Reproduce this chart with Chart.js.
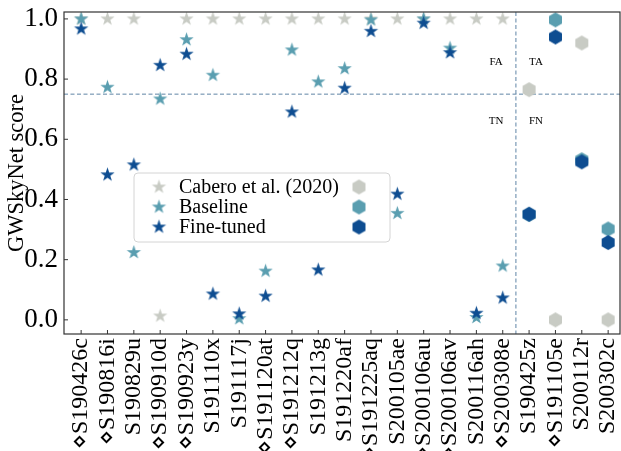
<!DOCTYPE html>
<html>
<head>
<meta charset="utf-8">
<script src="https://cdn.jsdelivr.net/npm/chart.js@4.4.0/dist/chart.umd.min.js"></script>
<style>
  html, body { margin: 0; padding: 0; background: #fff; }
  canvas { display: block; }
</style>
</head>
<body>
<canvas id="myChart" width="621" height="451"></canvas>
<script>
// events (⋄ = marked in the paper)
const events = [
  "⋄S190426c", "⋄S190816i", "S190829u", "⋄S190910d", "⋄S190923y",
  "S191110x", "S191117j", "⋄S191120at", "⋄S191212q", "S191213g",
  "S191220af", "⋄S191225aq", "S200105ae", "⋄S200106au", "⋄S200106av",
  "S200116ah", "⋄S200308e",
  "S190425z", "⋄S191105e", "S200112r", "S200302c",
];
// first 17 events are drawn as stars, the rest as hexagons
const nStarEvents = 17;

const cabero = [
  1.0, 1.0, 1.0, 0.013, 1.0, 1.0, 1.0, 1.0, 1.0, 1.0,
  1.0, 1.0, 1.0, 1.0, 1.0, 1.0, 1.0,
  0.765, 0.0, 0.92, 0.0,
];
const baseline = [
  1.0, 0.773, 0.224, 0.734, 0.931, 0.813, 0.004, 0.162, 0.897, 0.791,
  0.835, 0.997, 0.354, 1.0, 0.903, 0.008, 0.179,
  0.35, 0.997, 0.532, 0.302,
];
const finetuned = [
  0.967, 0.482, 0.515, 0.846, 0.883, 0.086, 0.02, 0.079, 0.691, 0.166,
  0.77, 0.959, 0.418, 0.986, 0.888, 0.022, 0.073,
  0.351, 0.94, 0.525, 0.257,
];
const yTicks = [0.0, 0.2, 0.4, 0.6, 0.8, 1.0];
const threshold = 0.75;

const annoText = ["FA", "TA", "TN", "FN"];
const annoX = [15.75, 17.26, 15.75, 17.26];
const annoY = [0.858, 0.858, 0.661, 0.661];

const colCabero = "#c8cbc4";
const colBase = "#5a9eb0";
const colFine = "#0e4d91";
const serif = "'Liberation Serif', 'Times New Roman', serif";

function starImg(color, r) {
  const c = document.createElement("canvas");
  c.width = c.height = Math.ceil(2 * r + 2);
  const g = c.getContext("2d");
  const cx = c.width / 2, cy = c.height / 2;
  g.beginPath();
  for (let i = 0; i < 10; i++) {
    const rad = i % 2 === 0 ? r : r * 0.39;
    const a = -Math.PI / 2 + i * Math.PI / 5;
    const px = cx + rad * Math.cos(a), py = cy + rad * Math.sin(a);
    if (i === 0) g.moveTo(px, py); else g.lineTo(px, py);
  }
  g.closePath();
  g.fillStyle = color;
  g.fill();
  return c;
}

function hexImg(color, r) {
  const c = document.createElement("canvas");
  c.width = c.height = Math.ceil(2 * r + 2);
  const g = c.getContext("2d");
  const cx = c.width / 2, cy = c.height / 2;
  g.beginPath();
  for (let i = 0; i < 6; i++) {
    const a = -Math.PI / 2 + i * Math.PI / 3;
    const px = cx + r * Math.cos(a), py = cy + r * Math.sin(a);
    if (i === 0) g.moveTo(px, py); else g.lineTo(px, py);
  }
  g.closePath();
  g.fillStyle = color;
  g.fill();
  return c;
}

const STAR_R = 7.5, HEX_R = 7.5;
const stars = { cab: starImg(colCabero, STAR_R), base: starImg(colBase, STAR_R), fine: starImg(colFine, STAR_R) };
const hexes = { cab: hexImg(colCabero, HEX_R), base: hexImg(colBase, HEX_R), fine: hexImg(colFine, HEX_R) };

function pts(values, from, to) {
  const out = [];
  for (let i = from; i < to; i++) out.push({ x: i, y: values[i] });
  return out;
}

function ds(label, values, img, star, order) {
  const from = star ? 0 : nStarEvents;
  const to = star ? nStarEvents : events.length;
  return {
    label: label,
    data: pts(values, from, to),
    pointStyle: img,
    pointRadius: 7,
    showLine: false,
    order: order,
  };
}

const decor = {
  id: "decor",
  beforeDatasetsDraw(chart) {
    const { ctx, chartArea: a, scales: { x, y } } = chart;
    ctx.save();
    ctx.strokeStyle = "#5f84a6";
    ctx.lineWidth = 1;
    ctx.setLineDash([4, 2.5]);
    const yy = y.getPixelForValue(threshold);
    ctx.beginPath();
    ctx.moveTo(a.left, yy); ctx.lineTo(a.right, yy);
    const xx = x.getPixelForValue(nStarEvents - 0.5);
    ctx.moveTo(xx, a.top); ctx.lineTo(xx, a.bottom);
    ctx.stroke();
    ctx.restore();
  },
  afterDatasetsDraw(chart) {
    const { ctx, chartArea: a, scales: { x, y } } = chart;
    ctx.save();
    // frame
    ctx.strokeStyle = "#333";
    ctx.lineWidth = 1.2;
    ctx.strokeRect(a.left, a.top, a.right - a.left, a.bottom - a.top);
    // inward ticks
    ctx.lineWidth = 1;
    ctx.beginPath();
    yTicks.forEach(v => {
      const py = y.getPixelForValue(v);
      ctx.moveTo(a.left, py); ctx.lineTo(a.left + 4, py);
    });
    events.forEach((e, i) => {
      const px = x.getPixelForValue(i);
      ctx.moveTo(px, a.bottom); ctx.lineTo(px, a.bottom - 4);
    });
    ctx.stroke();

    // quadrant labels
    ctx.fillStyle = "#000";
    ctx.font = "11px " + serif;
    ctx.textAlign = "center";
    ctx.textBaseline = "middle";
    annoText.forEach((t, i) => {
      ctx.fillText(t, x.getPixelForValue(annoX[i]), y.getPixelForValue(annoY[i]));
    });

    // legend
    const lx = 134, ly = 173, lw = 256, lh = 69;
    ctx.beginPath();
    ctx.roundRect(lx, ly, lw, lh, 4);
    ctx.fillStyle = "rgba(255,255,255,0.85)";
    ctx.fill();
    ctx.strokeStyle = "#d4d4d4";
    ctx.lineWidth = 1;
    ctx.stroke();
    const rows = [
      ["Cabero et al. (2020)", "cab"],
      ["Baseline", "base"],
      ["Fine-tuned", "fine"],
    ];
    ctx.font = "20px " + serif;
    ctx.textAlign = "left";
    ctx.fillStyle = "#000";
    rows.forEach((r, i) => {
      const cy = ly + 14 + i * 20;
      const s = stars[r[1]], h = hexes[r[1]];
      ctx.drawImage(s, 159 - s.width / 2, cy - s.height / 2);
      ctx.drawImage(h, 359 - h.width / 2, cy - h.height / 2);
      ctx.fillText(r[0], 179, cy + 1);
    });
    ctx.restore();
  },
};

const ctx = document.getElementById("myChart");

new Chart(ctx, {
  type: "scatter",
  data: {
    datasets: [
      ds("Cabero et al. (2020)", cabero, stars.cab, true, 5),
      ds("Baseline", baseline, stars.base, true, 4),
      ds("Fine-tuned", finetuned, stars.fine, true, 3),
      ds("Cabero hex", cabero, hexes.cab, false, 2),
      ds("Baseline hex", baseline, hexes.base, false, 1),
      ds("Fine-tuned hex", finetuned, hexes.fine, false, 0),
    ],
  },
  plugins: [decor],
  options: {
    responsive: false,
    animation: false,
    devicePixelRatio: 1,
    layout: {
      autoPadding: false,
      padding: { top: 12, right: 1, left: 0, bottom: 0 },
    },
    scales: {
      x: {
        type: "linear",
        min: -0.65,
        max: 20.45,
        grid: { display: false, drawTicks: false },
        border: { display: false },
        afterBuildTicks: (s) => { s.ticks = events.map((e, i) => ({ value: i })); },
        afterFit: (s) => {
          s.height = 117;
          s.paddingLeft = 0;
          s.paddingRight = 0;
        },
        ticks: {
          autoSkip: false,
          maxRotation: 90,
          minRotation: 90,
          padding: 4,
          color: "#000",
          font: { family: serif, size: 24 },
          callback: (v) => events[v],
        },
      },
      y: {
        min: -0.047,
        max: 1.023,
        grid: { display: false, drawTicks: false },
        border: { display: false },
        afterBuildTicks: (s) => { s.ticks = yTicks.map(v => ({ value: v })); },
        afterFit: (s) => {
          s.width = 64;
          s.paddingTop = 0;
          s.paddingBottom = 0;
        },
        title: {
          display: true,
          text: "GWSkyNet score",
          color: "#000",
          font: { family: serif, size: 22.5 },
          padding: { top: 4, bottom: 0 },
        },
        ticks: {
          padding: 6,
          color: "#000",
          font: { family: serif, size: 27 },
          callback: (v) => v.toFixed(1),
        },
      },
    },
    plugins: {
      legend: { display: false },
      tooltip: { enabled: false },
    },
  },
});
</script>
</body>
</html>
